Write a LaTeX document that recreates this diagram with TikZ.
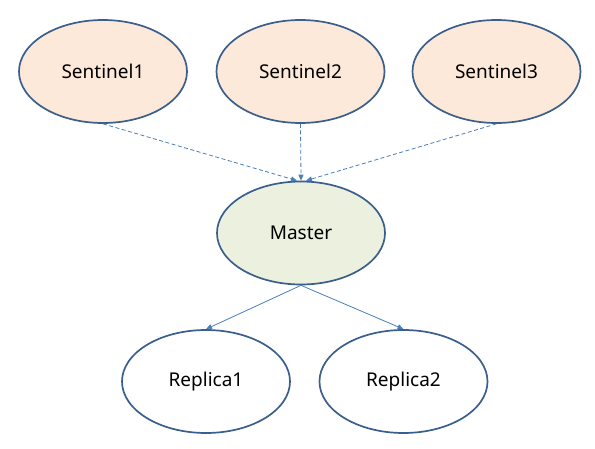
\documentclass[tikz,border=0pt]{standalone}
\usepackage{fontspec}
\setmainfont{Noto Sans}
\usetikzlibrary{shapes.geometric,arrows.meta}
\definecolor{edgeblue}{HTML}{3A5F8C}
\definecolor{arrowblue}{HTML}{4A7EBB}
\definecolor{sentfill}{HTML}{FDE9D9}
\definecolor{mastfill}{HTML}{EBF1DE}
\tikzset{
  oval/.style={ellipse, draw=edgeblue, line width=1.7pt, minimum width=168pt, minimum height=103pt, inner sep=0pt, font=\fontsize{19}{22}\selectfont},
  sent/.style={oval, fill=sentfill},
  mast/.style={oval, fill=mastfill},
  repl/.style={oval, fill=white},
  conn/.style={draw=arrowblue, line width=0.8pt, -{Triangle[length=6pt,width=5pt]}},
  dconn/.style={conn, dash pattern=on 4pt off 2.5pt},
}
\begin{document}
\begin{tikzpicture}[x=1pt,y=-1pt]
\useasboundingbox (0,0) rectangle (595,449);
\node[sent] (s1) at (103,71.5) {Sentinel1};
\node[sent] (s2) at (300.5,71.5) {Sentinel2};
\node[sent] (s3) at (496.5,71.5) {Sentinel3};
\node[mast] (m) at (301,233) {Master};
\node[repl] (r1) at (206,381.5) {Replica1};
\node[repl] (r2) at (403.5,381.5) {Replica2};
\draw[dconn] (s1.south) -- ([xshift=-4pt]m.north);
\draw[dconn] (s2.south) -- (m.north);
\draw[dconn] (s3.south) -- ([xshift=5pt]m.north);
\draw[conn] (m.south) -- (r1.north);
\draw[conn] (m.south) -- (r2.north);
\end{tikzpicture}
\end{document}
